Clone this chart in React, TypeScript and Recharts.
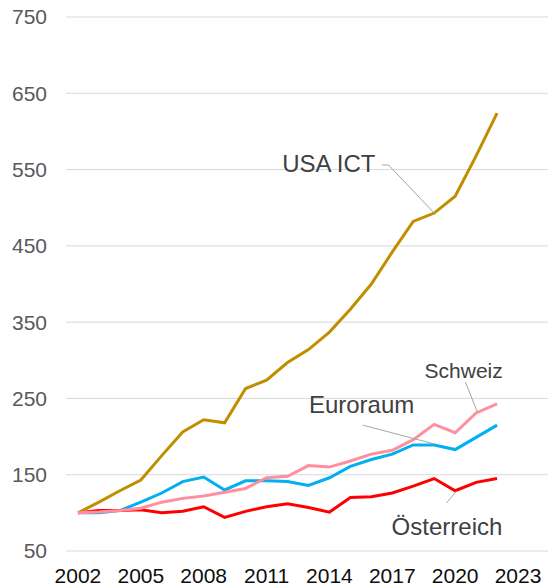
import React from 'react';
import { LineChart, Line, XAxis, YAxis, CartesianGrid, ReferenceLine, ReferenceDot } from 'recharts';

const years = [2002, 2003, 2004, 2005, 2006, 2007, 2008, 2009, 2010, 2011, 2012, 2013, 2014, 2015, 2016, 2017, 2018, 2019, 2020, 2021, 2022];
const usaIct = [100, 114, 129, 143, 175, 206, 222, 218, 263, 274, 297, 314, 337, 367, 400, 442, 482, 493, 515, 568, 624];
const euroraum = [100, 100, 103, 114, 126, 141, 147, 130, 142, 142, 141, 136, 146, 161, 170, 177, 189, 189, 183, 199, 215];
const schweiz = [100, 101, 103, 106, 114, 119, 122, 127, 132, 146, 148, 162, 160, 168, 177, 182, 196, 216, 205, 231, 243];
const oesterreich = [100, 103, 103, 104, 100, 102, 108, 94, 102, 108, 112, 107, 101, 120, 121, 126, 135, 145, 129, 140, 145];

const xTicks = [2002, 2005, 2008, 2011, 2014, 2017, 2020, 2023];
const yTicks = [50, 150, 250, 350, 450, 550, 650, 750];

const data = years.map((y, i) => ({
  year: y,
  usa: usaIct[i],
  euro: euroraum[i],
  ch: schweiz[i],
  at: oesterreich[i],
}));

const FONT = '"Liberation Sans", Arial, sans-serif';

const makeLabel = (text: string, anchor: 'start' | 'end', size: number) => (props: any) => {
  const vb = props.viewBox || {};
  const x = (vb.x ?? 0) + (vb.width ?? 0) / 2;
  const y = (vb.y ?? 0) + (vb.height ?? 0) / 2;
  return (
    <text x={x} y={y} textAnchor={anchor} fontSize={size} fill="#404040" fontFamily={FONT}>
      {text}
    </text>
  );
};

const leaderStyle = { stroke: '#A6A6A6', strokeWidth: 1 };

export default function App() {
  return (
    <div style={{ position: 'absolute', left: 0, top: 0, width: 548, height: 586, background: '#fff' }}>
      <LineChart width={548} height={586} data={data} margin={{ top: 17, right: 0, bottom: 0, left: 0 }}>
        <CartesianGrid vertical={false} stroke="#D9D9D9" strokeWidth={1} />
        <XAxis
          dataKey="year"
          type="number"
          domain={[2001.43, 2024.43]}
          ticks={xTicks}
          allowDataOverflow
          axisLine={false}
          tickLine={false}
          tickSize={0}
          tickMargin={17}
          height={35}
          interval={0}
          tick={{ fontSize: 21, fill: '#0d0d0d', fontFamily: FONT }}
        />
        <YAxis
          type="number"
          domain={[50, 750]}
          ticks={yTicks}
          allowDataOverflow
          axisLine={false}
          tickLine={false}
          tickSize={0}
          tickMargin={19}
          width={66}
          interval={0}
          tick={{ fontSize: 21, fill: '#595959', fontFamily: FONT }}
        />
        <Line type="linear" dataKey="euro" stroke="#00B0F0" strokeWidth={3} dot={false} isAnimationActive={false} />
        <Line type="linear" dataKey="at" stroke="#FF0000" strokeWidth={3} dot={false} isAnimationActive={false} />
        <Line type="linear" dataKey="usa" stroke="#BF8F00" strokeWidth={3} dot={false} isAnimationActive={false} />
        <Line type="linear" dataKey="ch" stroke="#FF8F9F" strokeWidth={3} dot={false} isAnimationActive={false} />

        <ReferenceLine segment={[{ x: 2016.5, y: 556 }, { x: 2016.82, y: 556 }]} {...leaderStyle} />
        <ReferenceLine segment={[{ x: 2016.82, y: 556 }, { x: 2019, y: 493 }]} {...leaderStyle} />
        <ReferenceLine segment={[{ x: 2015.59, y: 215 }, { x: 2019.05, y: 190 }]} {...leaderStyle} />
        <ReferenceLine segment={[{ x: 2020.49, y: 271.5 }, { x: 2021.06, y: 232 }]} {...leaderStyle} />
        <ReferenceLine segment={[{ x: 2019.59, y: 113 }, { x: 2020.06, y: 128.6 }]} {...leaderStyle} />

        <ReferenceDot x={2016.2} y={547} r={0} fill="none" stroke="none" label={{ content: makeLabel('USA ICT', 'end', 24) }} />
        <ReferenceDot x={2013.02} y={231} r={0} fill="none" stroke="none" label={{ content: makeLabel('Euroraum', 'start', 24) }} />
        <ReferenceDot x={2018.54} y={276.7} r={0} fill="none" stroke="none" label={{ content: makeLabel('Schweiz', 'start', 21) }} />
        <ReferenceDot x={2022.25} y={71} r={0} fill="none" stroke="none" label={{ content: makeLabel('Österreich', 'end', 24) }} />
      </LineChart>
    </div>
  );
}
